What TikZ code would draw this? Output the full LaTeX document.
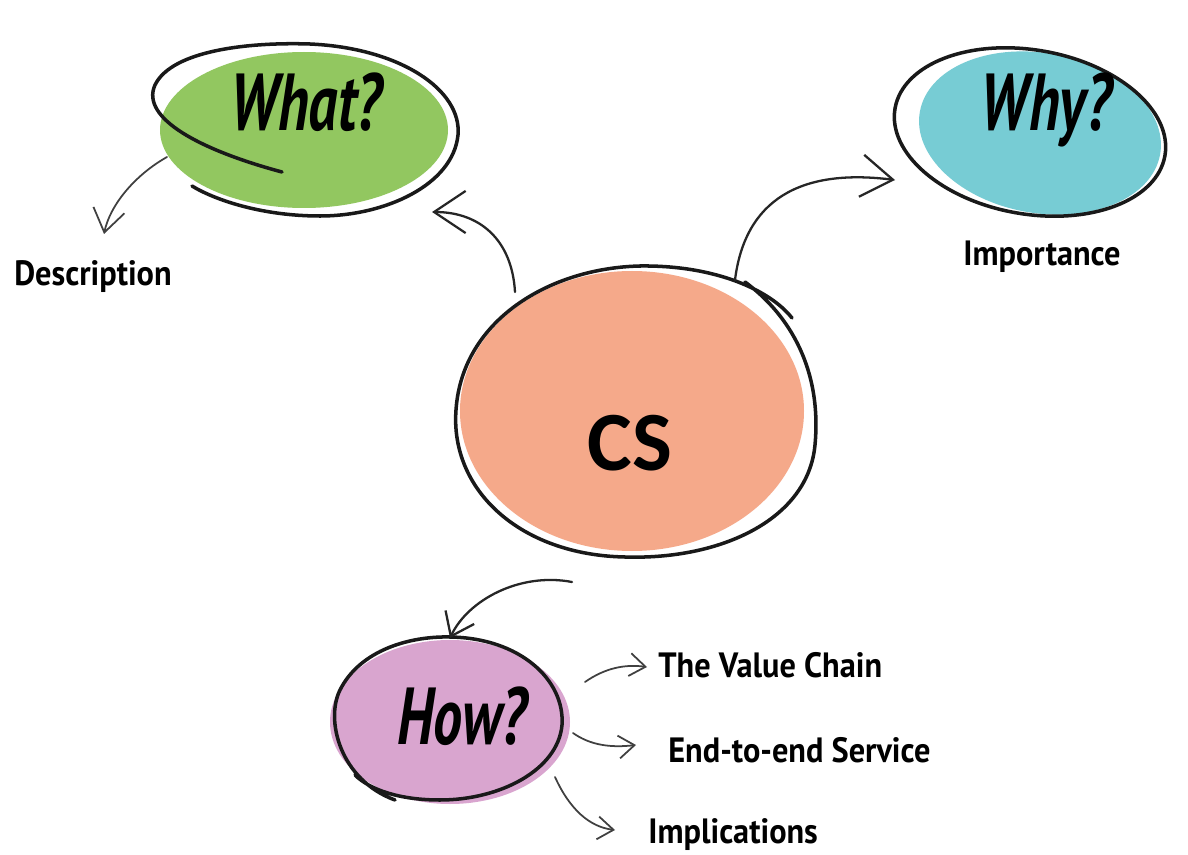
\documentclass[tikz,border=0pt]{standalone}
\usepackage{fontspec}
\newfontfamily\handfont[FakeStretch=0.92]{PT Sans}
\newfontfamily\qfont[FakeStretch=0.72]{PT Sans}
\newfontfamily\csfont{Carlito}
\usetikzlibrary{arrows.meta,shapes.geometric}
\definecolor{whatgreen}{RGB}{146,199,96}
\definecolor{whyteal}{RGB}{119,204,212}
\definecolor{cssalmon}{RGB}{245,169,138}
\definecolor{howpink}{RGB}{217,165,207}
\tikzset{
  outline/.style={draw=black!90, line width=2pt, line cap=round},
  bigarrow/.style={draw=black!85, line width=1.3pt, line cap=round, -{Straight Barb[length=18pt,width=24pt,line width=1.3pt]}},
  smallarrow/.style={draw=black!75, line width=1pt, line cap=round, -{Straight Barb[length=9pt,width=13pt,line width=1pt]}},
  lbl/.style={font=\handfont\bfseries\fontsize{20}{24}\selectfont, text=black, inner sep=0pt},
  qlbl/.style={font=\qfont\bfseries\itshape\fontsize{46}{50}\selectfont, text=black, inner sep=0pt},
}
\begin{document}
\begin{tikzpicture}[x=0.02cm, y=-0.02cm]
\useasboundingbox (0,0) rectangle (1188,855);
\fill[white] (0,0) rectangle (1188,855);

% fills
\fill[whatgreen] (304,130) ellipse [x radius=144, y radius=78];
\fill[whyteal, rotate around={-10:(1040,133)}] (1040,133) ellipse [x radius=122, y radius=80];
\fill[cssalmon] (632,411) ellipse [x radius=172, y radius=140];
\fill[howpink] (450,722) ellipse [x radius=120, y radius=82];

% hand-drawn outlines
\draw[outline] (282,172) .. controls (200,150) and (140,118) .. (155,85)
  .. controls (172,50) and (250,42) .. (310,44)
  .. controls (400,48) and (462,90) .. (458,135)
  .. controls (453,185) and (385,216) .. (320,216)
  .. controls (262,216) and (215,200) .. (192,186);
\draw[outline, rotate around={-10:(1030,132)}] (1030,132) ellipse [x radius=137, y radius=82];
\draw[outline] (745,282) .. controls (790,315) and (822,370) .. (815,445)
  .. controls (808,520) and (720,560) .. (625,557)
  .. controls (520,555) and (450,490) .. (456,410)
  .. controls (462,320) and (550,268) .. (640,266)
  .. controls (715,265) and (770,290) .. (792,318);
\draw[outline] (395,800) .. controls (340,780) and (325,720) .. (340,690)
  .. controls (360,650) and (410,636) .. (450,637)
  .. controls (520,638) and (565,680) .. (562,725)
  .. controls (558,770) and (500,800) .. (440,800)
  .. controls (400,800) and (370,790) .. (355,775);

% texts
\node[qlbl] (what) at (306,102) {What?};
\node[qlbl] (why) at (1046,110) {Why?};
\node[qlbl] (how) at (462,716) {How?};
\node[font=\csfont\bfseries\fontsize{48}{52}\selectfont, inner sep=0pt] (cs) at (630,443) {CS};
\node[lbl] (desc) at (93,277) {Description};
\node[lbl] (imp) at (1042,257) {Importance};
\node[lbl, anchor=west] (vc) at (658,665) {The Value Chain};
\node[lbl, anchor=west] (e2e) at (668,750) {End-to-end Service};
\node[lbl, anchor=west] (impl) at (648,835) {Implications};

% connector end points
\coordinate (csA) at (515,292);
\coordinate (whatIn) at (432,212);
\coordinate (csB) at (735,280);
\coordinate (whyIn) at (895,180);
\coordinate (whatOut) at (167,157);
\coordinate (descIn) at (104,234);
\coordinate (csC) at (572,582);
\coordinate (howIn) at (450,638);
\coordinate (howA) at (585,682);
\coordinate (vcIn) at (647,667);
\coordinate (howB) at (573,733);
\coordinate (e2eIn) at (636,745);
\coordinate (howC) at (555,777);
\coordinate (implIn) at (615,830);

% connectors
\draw[bigarrow] (csA) .. controls (512,240) and (480,212) .. (whatIn);
\draw[bigarrow] (csB) .. controls (745,200) and (800,168) .. (whyIn);
\draw[smallarrow, -{Straight Barb[length=13pt,width=18pt,line width=1pt]}] (whatOut) .. controls (135,175) and (110,205) .. (descIn);
\draw[bigarrow, -{Straight Barb[length=12pt,width=18pt,line width=1.3pt]}] (csC) .. controls (520,572) and (468,600) .. (howIn);
\draw[smallarrow] (howA) .. controls (605,668) and (625,664) .. (vcIn);
\draw[smallarrow] (howB) .. controls (590,745) and (610,748) .. (e2eIn);
\draw[smallarrow] (howC) .. controls (570,810) and (590,827) .. (implIn);
\end{tikzpicture}
\end{document}
